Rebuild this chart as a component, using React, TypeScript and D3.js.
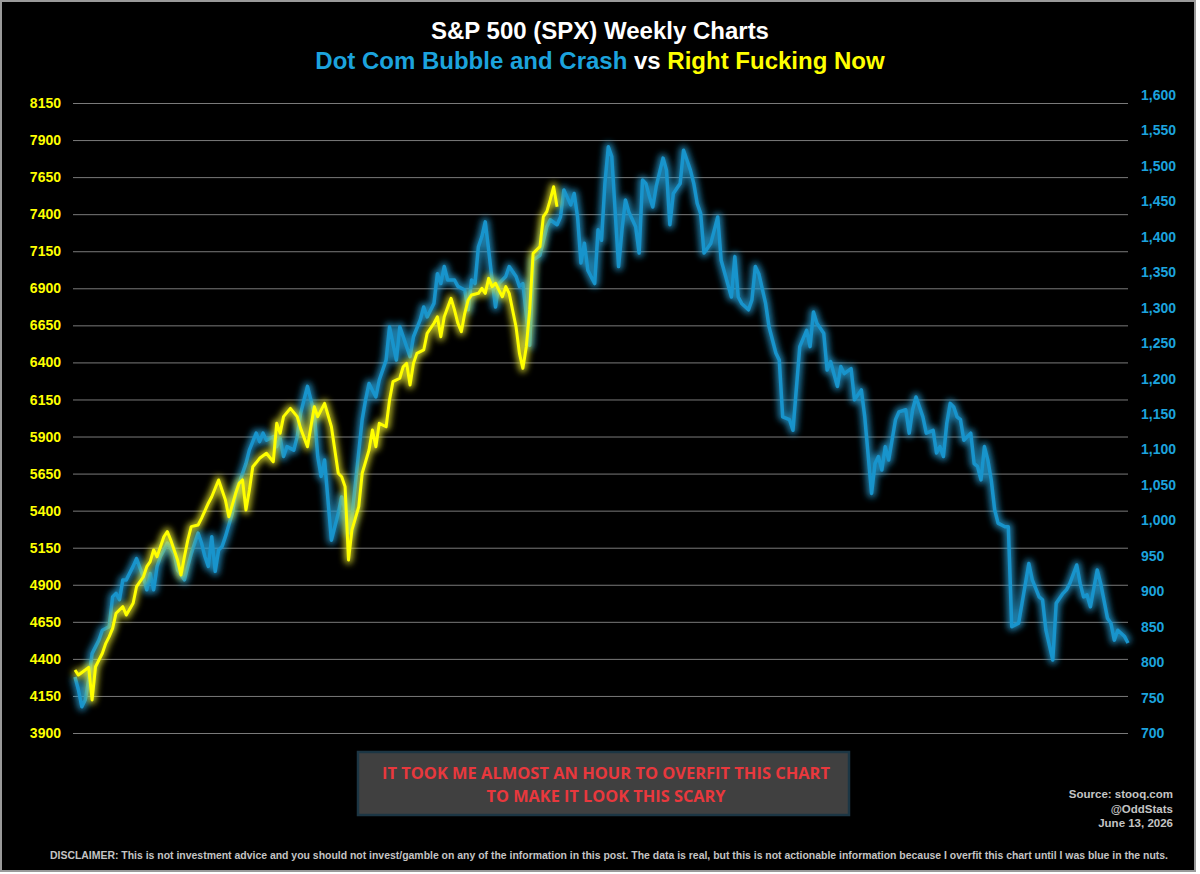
import React from 'react';
import * as d3 from 'd3';

// weekly closes: [week index, close]
const dotCom: [number, number][] = [
  [0, 779], [1, 761], [2, 737], [3, 747], [4, 775], [5, 812], [7, 831], [8, 845], [10, 850], [11, 892],
  [12, 897], [13, 888], [14, 916], [15, 916], [17, 935], [18, 946], [20, 920], [21, 902], [22, 925], [23, 902],
  [24, 935], [25, 949], [26, 958], [27, 968], [29, 953], [30, 930], [32, 916], [33, 935], [34, 953], [36, 982],
  [37, 968], [38, 949], [39, 935], [40, 977], [41, 928], [42, 958], [43, 963], [44, 977], [46, 1010], [47, 1038],
  [48, 1052], [50, 1080], [51, 1099], [53, 1123], [54, 1111], [55, 1123], [56, 1113], [58, 1118], [59, 1104], [60, 1116],
  [61, 1090], [62, 1104], [64, 1099], [65, 1118], [66, 1151], [68, 1189], [69, 1170], [70, 1151], [71, 1090], [72, 1062],
  [73, 1085], [75, 972], [77, 1010], [78, 1033], [79, 1015], [80, 982], [81, 1005], [84, 1142], [85, 1170], [86, 1193],
  [88, 1174], [89, 1198], [91, 1226], [92, 1273], [94, 1226], [95, 1273], [97, 1245], [98, 1231], [99, 1259], [101, 1283],
  [102, 1301], [103, 1287], [105, 1306], [106, 1348], [107, 1334], [108, 1358], [109, 1339], [111, 1339], [112, 1330], [114, 1325],
  [115, 1297], [116, 1339], [117, 1334], [118, 1386], [119, 1400], [120, 1421], [121, 1381], [122, 1339], [123, 1301], [124, 1334],
  [126, 1344], [127, 1358], [129, 1344], [130, 1330], [131, 1334], [133, 1247], [134, 1367], [136, 1374], [138, 1414], [139, 1424],
  [141, 1417], [142, 1428], [143, 1466], [145, 1445], [146, 1461], [147, 1428], [148, 1363], [149, 1391], [150, 1353], [152, 1334],
  [153, 1410], [154, 1395], [155, 1475], [156, 1527], [157, 1513], [159, 1358], [160, 1410], [161, 1452], [162, 1435], [164, 1414],
  [165, 1377], [166, 1480], [167, 1475], [168, 1457], [169, 1442], [170, 1471], [172, 1511], [173, 1494], [174, 1417], [175, 1461],
  [177, 1475], [178, 1522], [180, 1494], [181, 1475], [182, 1447], [183, 1433], [184, 1377], [186, 1391], [188, 1428], [189, 1367],
  [192, 1315], [193, 1372], [194, 1315], [195, 1306], [197, 1297], [198, 1311], [199, 1358], [200, 1348], [202, 1306], [203, 1273],
  [205, 1236], [206, 1226], [207, 1146], [209, 1142], [210, 1127], [212, 1245], [214, 1268], [215, 1245], [216, 1294], [217, 1278],
  [219, 1264], [220, 1212], [221, 1224], [223, 1189], [224, 1217], [225, 1207], [227, 1214], [228, 1170], [230, 1184], [231, 1146],
  [233, 1038], [234, 1080], [235, 1090], [236, 1071], [237, 1104], [238, 1085], [240, 1142], [241, 1153], [243, 1156], [244, 1123],
  [245, 1156], [246, 1174], [248, 1146], [249, 1123], [251, 1127], [252, 1095], [253, 1104], [254, 1090], [255, 1137], [256, 1165],
  [257, 1160], [258, 1146], [259, 1142], [260, 1113], [262, 1123], [263, 1080], [264, 1076], [265, 1057], [266, 1104], [267, 1085],
  [268, 1057], [269, 1015], [270, 996], [272, 991], [273, 991], [274, 850], [276, 855], [278, 911], [279, 939], [280, 916],
  [282, 892], [283, 888], [284, 845], [286, 803], [287, 883], [289, 897], [290, 902], [291, 911], [293, 937], [294, 911],
  [295, 892], [296, 895], [297, 878], [299, 930], [300, 911], [302, 862], [303, 855], [304, 831], [305, 845], [307, 836],
  [308, 827],
];

const rightNow: [number, number][] = [
  [0, 4325], [1, 4291], [3, 4325], [4, 4343], [5, 4123], [6, 4347], [8, 4438], [9, 4505], [10, 4550], [11, 4606],
  [12, 4708], [14, 4752], [15, 4696], [17, 4775], [18, 4887], [20, 4954], [21, 5022], [22, 5056], [23, 5135], [24, 5089],
  [26, 5224], [27, 5258], [28, 5202], [30, 5067], [31, 4966], [32, 5089], [33, 5202], [34, 5292], [36, 5303], [37, 5348],
  [39, 5450], [40, 5494], [42, 5607], [43, 5539], [44, 5472], [45, 5359], [47, 5517], [48, 5584], [49, 5607], [50, 5404],
  [51, 5539], [52, 5696], [54, 5753], [56, 5787], [58, 5730], [59, 5989], [60, 5922], [61, 6034], [63, 6090], [65, 6034],
  [66, 5955], [68, 5831], [70, 6101], [71, 6034], [73, 6124], [75, 5966], [77, 5652], [78, 5629], [79, 5562], [80, 5067],
  [81, 5270], [83, 5427], [84, 5652], [86, 5809], [87, 5944], [88, 5831], [89, 5989], [91, 5966], [92, 6146], [93, 6270],
  [95, 6293], [96, 6371], [97, 6394], [98, 6248], [99, 6394], [100, 6461], [102, 6484], [103, 6596], [105, 6664], [106, 6708],
  [107, 6573], [108, 6708], [110, 6832], [111, 6754], [112, 6664], [113, 6607], [114, 6731], [115, 6821], [116, 6855], [118, 6866],
  [119, 6900], [120, 6866], [121, 6967], [122, 6911], [123, 6934], [124, 6888], [125, 6843], [126, 6911], [127, 6866], [129, 6641],
  [130, 6461], [131, 6360], [132, 6506], [133, 6754], [134, 7136], [136, 7181], [137, 7383], [138, 7417], [139, 7496], [140, 7585],
  [141, 7450],
];

const leftTicks = [3900, 4150, 4400, 4650, 4900, 5150, 5400, 5650, 5900, 6150, 6400, 6650, 6900, 7150, 7400, 7650, 7900, 8150];
const rightTicks = [700, 750, 800, 850, 900, 950, 1000, 1050, 1100, 1150, 1200, 1250, 1300, 1350, 1400, 1450, 1500, 1550, 1600];

const BLUE = '#1ca3dd';
const YELLOW = '#ffff00';
const LINE_BLUE = '#1894cc';

const renderChart = (svg: any) => {
  const width = 1200;
  const height = 874;
  svg.selectAll('*').remove();

  const x = d3.scaleLinear().domain([0, 308]).range([75, 1128]);
  const yLeft = d3.scaleLinear().domain([3900, 8150]).range([733, 103]);
  const yRight = d3.scaleLinear().domain([700, 1600]).range([733, 95]);

  const defs = svg.append('defs');
  defs.append('filter').attr('id', 'glow')
    .attr('x', '-5%').attr('y', '-5%').attr('width', '110%').attr('height', '110%')
    .append('feGaussianBlur').attr('in', 'SourceGraphic').attr('stdDeviation', 3);

  svg.append('rect').attr('width', width).attr('height', height).attr('fill', '#ffffff');
  svg.append('rect')
    .attr('x', 1).attr('y', 1).attr('width', 1194).attr('height', 870)
    .attr('fill', '#000000').attr('stroke', '#9a9a9a').attr('stroke-width', 2);

  // title
  svg.append('text')
    .attr('x', 600).attr('y', 39)
    .attr('text-anchor', 'middle')
    .attr('font-family', 'Liberation Sans, Arial, sans-serif')
    .attr('font-weight', 'bold').attr('font-size', 24)
    .attr('fill', '#ffffff')
    .text('S&P 500 (SPX) Weekly Charts');

  const sub = svg.append('text')
    .attr('x', 600).attr('y', 69)
    .attr('text-anchor', 'middle')
    .attr('font-family', 'Liberation Sans, Arial, sans-serif')
    .attr('font-weight', 'bold').attr('font-size', 24);
  sub.append('tspan').attr('fill', BLUE).text('Dot Com Bubble and Crash');
  sub.append('tspan').attr('fill', '#ffffff').text(' vs ');
  sub.append('tspan').attr('fill', YELLOW).text('Right Fucking Now');

  // gridlines
  svg.append('g')
    .selectAll('line')
    .data(leftTicks)
    .join('line')
    .attr('x1', 73).attr('x2', 1128)
    .attr('y1', (d: number) => yLeft(d) + 0.5).attr('y2', (d: number) => yLeft(d) + 0.5)
    .attr('stroke', '#7a7a7a').attr('stroke-width', 1);

  // axes labels
  svg.append('g')
    .selectAll('text')
    .data(leftTicks)
    .join('text')
    .attr('x', 61).attr('y', (d: number) => yLeft(d))
    .attr('dy', '0.36em')
    .attr('text-anchor', 'end')
    .attr('font-family', 'Liberation Sans, Arial, sans-serif')
    .attr('font-weight', 'bold').attr('font-size', 14)
    .attr('fill', YELLOW)
    .text((d: number) => String(d));

  svg.append('g')
    .selectAll('text')
    .data(rightTicks)
    .join('text')
    .attr('x', 1141).attr('y', (d: number) => yRight(d))
    .attr('dy', '0.36em')
    .attr('text-anchor', 'start')
    .attr('font-family', 'Liberation Sans, Arial, sans-serif')
    .attr('font-weight', 'bold').attr('font-size', 14)
    .attr('fill', BLUE)
    .text((d: number) => d3.format(',')(d));

  // lines with glow
  const blueLine = d3.line<[number, number]>().x(d => x(d[0])).y(d => yRight(d[1]));
  const yellowLine = d3.line<[number, number]>().x(d => x(d[0])).y(d => yLeft(d[1]));

  const drawGlowLine = (path: string, core: string, halo: string, w: number) => {
    svg.append('path').attr('d', path).attr('fill', 'none')
      .attr('stroke', halo).attr('stroke-width', w + 5).attr('stroke-opacity', 0.75)
      .attr('stroke-linejoin', 'round').attr('filter', 'url(#glow)');
    svg.append('path').attr('d', path).attr('fill', 'none')
      .attr('stroke', core).attr('stroke-width', w)
      .attr('stroke-linejoin', 'round');
  };

  drawGlowLine(blueLine(dotCom) as string, LINE_BLUE, '#2aa4dc', 3.5);
  drawGlowLine(yellowLine(rightNow) as string, YELLOW, '#f2f230', 3);

  // note box
  svg.append('rect')
    .attr('x', 358).attr('y', 752).attr('width', 491).attr('height', 63)
    .attr('fill', '#404040').attr('stroke', '#1c3644').attr('stroke-width', 2.5);
  const note = [
    { text: 'IT TOOK ME ALMOST AN HOUR TO OVERFIT THIS CHART', y: 779, len: 448 },
    { text: 'TO MAKE IT LOOK THIS SCARY', y: 802, len: 239 },
  ];
  svg.append('g')
    .selectAll('text')
    .data(note)
    .join('text')
    .attr('x', 606).attr('y', (d: any) => d.y)
    .attr('text-anchor', 'middle')
    .attr('font-family', 'Liberation Sans Narrow, Open Sans, Arial, sans-serif')
    .attr('font-weight', 'bold').attr('font-size', 16.5)
    .attr('textLength', (d: any) => d.len).attr('lengthAdjust', 'spacingAndGlyphs')
    .attr('fill', '#e8383d')
    .text((d: any) => d.text);

  // source
  const source = ['Source: stooq.com', '@OddStats', 'June 13, 2026'];
  svg.append('g')
    .selectAll('text')
    .data(source)
    .join('text')
    .attr('x', 1173).attr('y', (_: string, i: number) => 798 + i * 14.5)
    .attr('text-anchor', 'end')
    .attr('font-family', 'Liberation Sans, Arial, sans-serif')
    .attr('font-weight', 'bold').attr('font-size', 11.5)
    .attr('fill', '#c4c4c4')
    .text((d: string) => d);

  svg.append('text')
    .attr('x', 609).attr('y', 859)
    .attr('text-anchor', 'middle')
    .attr('font-family', 'Liberation Sans, Arial, sans-serif')
    .attr('font-weight', 'bold').attr('font-size', 10)
    .attr('textLength', 1118).attr('lengthAdjust', 'spacingAndGlyphs')
    .attr('fill', '#c4c4c4')
    .text('DISCLAIMER: This is not investment advice and you should not invest/gamble on any of the information in this post. The data is real, but this is not actionable information because I overfit this chart until I was blue in the nuts.');
};

const App: React.FC = () => {
  const ref = React.useRef<SVGSVGElement>(null);

  React.useEffect(() => {
    renderChart(d3.select(ref.current));
  }, []);

  return (
    <svg
      ref={ref}
      width={1200}
      height={874}
      style={{ position: 'absolute', left: 0, top: 0, display: 'block' }}
    />
  );
};

export default App;
